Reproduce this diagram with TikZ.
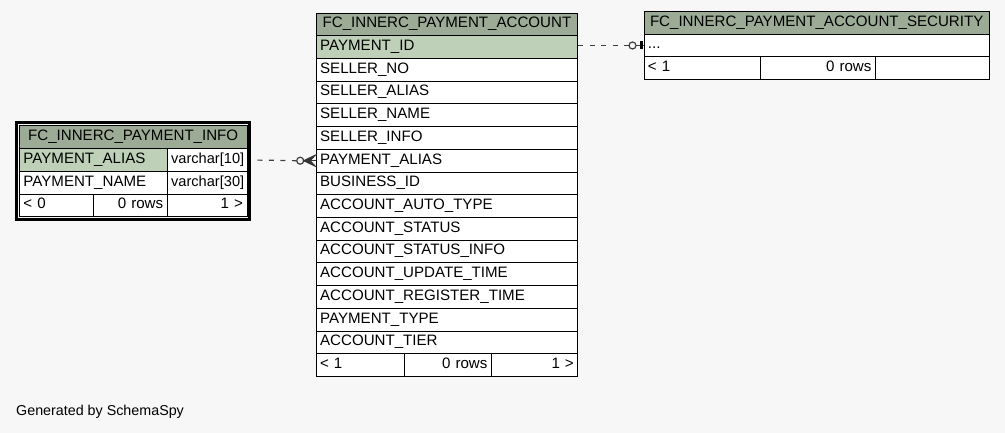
\documentclass[tikz,border=0pt]{standalone}
\usepackage{fontspec}
\setmainfont{Liberation Sans}
\usepackage{tikz}
\definecolor{headgreen}{HTML}{9BAB96}
\definecolor{keygreen}{HTML}{BED1B8}
\definecolor{paper}{HTML}{F7F7F7}
\tikzstyle{cell}=[draw=black, line width=0.9pt, fill=white, anchor=north west, minimum height=22.7pt, inner sep=4pt, text height=10.3pt, text depth=3.5pt, align=left, font=\fontsize{15.1}{17}\selectfont]
\tikzstyle{head}=[cell, fill=headgreen, align=center]
\tikzstyle{key}=[cell, fill=keygreen]
\tikzstyle{count}=[cell, align=right]
\tikzstyle{coltype}=[cell, font=\fontsize{14.6}{17}\selectfont]
\tikzstyle{relation}=[line width=1.2pt, black!75, dash pattern=on 5pt off 6.5pt, dash phase=5pt]

\begin{document}
\begin{tikzpicture}[x=1pt, y=-1pt]
        \fill[paper] (0,0) rectangle (1005,433);
        \useasboundingbox (0,0) rectangle (1005,433);
        % FC_INNERC_PAYMENT_INFO
        \draw[line width=2.6pt] (16.3,122.8) rectangle (249.2,219.4);
        \node[head, text width=219.5pt] (info-head) at (19,125.5) {FC\_INNERC\_PAYMENT\_INFO};
        \node[key, text width=139.7pt] (info-alias) at (19,148.2) {PAYMENT\_ALIAS};
        \node[coltype, text width=71.8pt] (info-alias-type) at (166.7,148.2) {varchar[10]};
        \node[cell, text width=139.7pt] (info-name) at (19,170.9) {PAYMENT\_NAME};
        \node[coltype, text width=71.8pt] (info-name-type) at (166.7,170.9) {varchar[30]};
        \node[cell, text width=66pt] (info-parents) at (19,193.6) {< 0};
        \node[count, text width=65.7pt] (info-rows) at (93,193.6) {0 rows};
        \node[count, text width=71.8pt] (info-children) at (166.7,193.6) {1 >};
        % FC_INNERC_PAYMENT_ACCOUNT
        \node[head, text width=253.6pt] (acct-head) at (315.7,12.7) {FC\_INNERC\_PAYMENT\_ACCOUNT};
        \node[key, text width=253.6pt] (acct-id) at (315.7,35.4) {PAYMENT\_ID};
        \node[cell, text width=253.6pt] (acct-seller-no) at (315.7,58.1) {SELLER\_NO};
        \node[cell, text width=253.6pt] (acct-seller-alias) at (315.7,80.8) {SELLER\_ALIAS};
        \node[cell, text width=253.6pt] (acct-seller-name) at (315.7,103.5) {SELLER\_NAME};
        \node[cell, text width=253.6pt] (acct-seller-info) at (315.7,126.2) {SELLER\_INFO};
        \node[cell, text width=253.6pt] (acct-alias) at (315.7,148.9) {PAYMENT\_ALIAS};
        \node[cell, text width=253.6pt] (acct-business) at (315.7,171.6) {BUSINESS\_ID};
        \node[cell, text width=253.6pt] (acct-auto-type) at (315.7,194.3) {ACCOUNT\_AUTO\_TYPE};
        \node[cell, text width=253.6pt] (acct-status) at (315.7,217.0) {ACCOUNT\_STATUS};
        \node[cell, text width=253.6pt] (acct-status-info) at (315.7,239.7) {ACCOUNT\_STATUS\_INFO};
        \node[cell, text width=253.6pt] (acct-update) at (315.7,262.4) {ACCOUNT\_UPDATE\_TIME};
        \node[cell, text width=253.6pt] (acct-register) at (315.7,285.1) {ACCOUNT\_REGISTER\_TIME};
        \node[cell, text width=253.6pt] (acct-type) at (315.7,307.8) {PAYMENT\_TYPE};
        \node[cell, text width=253.6pt] (acct-tier) at (315.7,330.5) {ACCOUNT\_TIER};
        \node[cell, text width=80.3pt] (acct-parents) at (315.7,353.2) {< 1};
        \node[count, text width=79pt] (acct-rows) at (404,353.2) {0 rows};
        \node[count, text width=78.3pt] (acct-children) at (491,353.2) {1 >};
        % FC_INNERC_PAYMENT_ACCOUNT_SECURITY
        \node[head, text width=337.5pt] (sec-head) at (643.5,11) {FC\_INNERC\_PAYMENT\_ACCOUNT\_SECURITY};
        \node[cell, text width=337.5pt] (sec-more) at (643.5,33.7) {...};
        \node[cell, text width=108.5pt] (sec-parents) at (643.5,56.4) {< 1};
        \node[count, text width=107pt] (sec-rows) at (760,56.4) {0 rows};
        \node[count, text width=106pt] (sec-children) at (875,56.4) {};
        % relations
        \draw[relation] ([xshift=3.5pt]info-alias-type.east) -- ([xshift=-19pt]acct-alias.west);
        \draw[line width=1.2pt, black!75, fill=paper] ([xshift=-15.5pt]acct-alias.west) circle (3.5);
        \draw[line width=1pt, black!80, fill=black!80] ([xshift=-12pt]acct-alias.west) -- ++(11.5,-5.5) -- ++(-5,5.5) -- ++(5,5.5) -- cycle;
        \draw[line width=1pt, black!80] ([xshift=-12pt]acct-alias.west) -- (acct-alias.west);
        \draw[relation, dash phase=0pt] (acct-id.east |- sec-more.west) -- ([xshift=-14.5pt]sec-more.west);
        \draw[line width=1.2pt, black!75, fill=paper] ([xshift=-11pt]sec-more.west) circle (3.5);
        \draw[line width=1.2pt, black!75] ([xshift=-7.5pt]sec-more.west) -- (sec-more.west);
        \fill[black] ([xshift=-3.2pt, yshift=-4pt]sec-more.west) rectangle ([xshift=-0.9pt, yshift=4pt]sec-more.west);
        \node[anchor=base west, inner sep=0pt, font=\fontsize{14.3}{17}\selectfont] (credit) at (16,415.7) {Generated by SchemaSpy};
    \end{tikzpicture}
\end{document}
